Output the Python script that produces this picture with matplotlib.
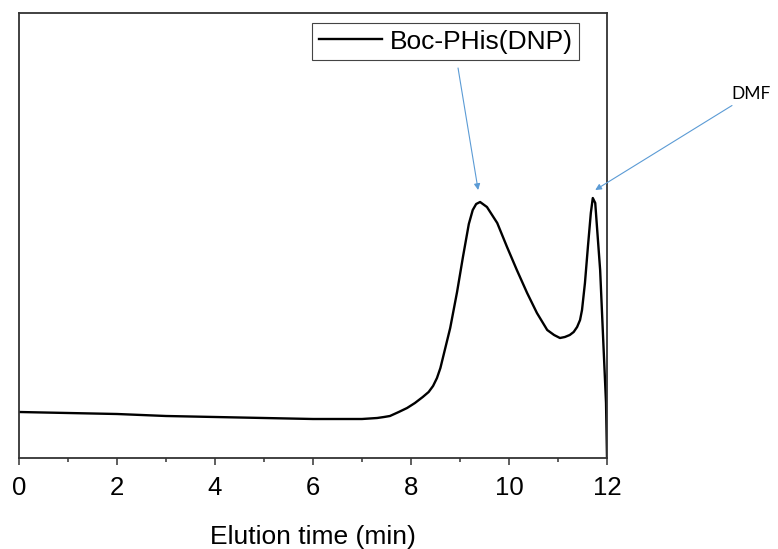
import numpy as np
import matplotlib
matplotlib.use("Agg")
import matplotlib.pyplot as plt
from matplotlib.ticker import MultipleLocator

time_min = [0, 1, 2, 3, 4, 5, 6, 6.55, 7.0, 7.31, 7.45, 7.57, 7.75, 7.92,
            8.08, 8.24, 8.36, 8.45, 8.53, 8.6, 8.69, 8.8, 8.94, 9.06, 9.18,
            9.26, 9.33, 9.41, 9.55, 9.76, 9.96, 10.16, 10.37, 10.57, 10.78,
            10.92, 11.04, 11.14, 11.24, 11.32, 11.39, 11.45, 11.49, 11.55,
            11.61, 11.67, 11.71, 11.76, 11.8, 11.86, 11.92, 11.98, 12.0]
signal = [46, 45, 44, 42, 41, 40, 39, 39, 39, 40, 41, 42, 46, 50,
          55, 61, 66, 72, 80, 90, 108, 130, 166, 201, 234,
          248, 254, 256, 251, 235, 211, 188, 165, 145, 128,
          123, 120, 121, 123, 126, 131, 138, 148, 175,
          211, 245, 260, 255, 228, 188, 121, 55, 0]
series_label = "Boc-PHis(DNP)"
xticks = [0, 2, 4, 6, 8, 10, 12]

plt.rcParams['font.family'] = ['Liberation Sans', 'DejaVu Sans']

fig = plt.figure(figsize=(7.78, 5.49), dpi=100)
ax = fig.add_axes([19 / 778, 91 / 549, 588 / 778, 445 / 549])

ax.plot(time_min, signal, color='black', linewidth=1.7, label=series_label,
        solid_joinstyle='round')

ax.set_xlim(0, 12)
ax.set_ylim(0, 445)
ax.set_xticks(xticks)
ax.xaxis.set_minor_locator(MultipleLocator(1))
ax.set_yticks([])
ax.tick_params(axis='x', which='major', direction='out', length=5, width=1.1,
               labelsize=18.5, pad=8, color='#333333')
ax.tick_params(axis='x', which='minor', direction='out', length=3, width=1.1,
               color='#333333')
for sp_ in ax.spines.values():
    sp_.set_color('#333333')
    sp_.set_linewidth(1.3)

ax.set_xlabel("Elution time (min)", fontsize=19, labelpad=18)

leg = ax.legend(loc='upper left', bbox_to_anchor=(312 / 778, 526 / 549),
                bbox_transform=fig.transFigure, borderaxespad=0, fontsize=19,
                frameon=True, fancybox=False, framealpha=1, borderpad=0.25,
                handlelength=2.4, handletextpad=0.3)
leg.get_frame().set_edgecolor('#444444')
leg.get_frame().set_linewidth(0.8)

# === Flechas azules ===
arrow_color = '#5B9BD5'
ax.annotate('', xy=(9.37, 268), xytext=(8.96, 390),
            arrowprops=dict(arrowstyle='-|>', color=arrow_color, lw=0.8,
                            mutation_scale=9, shrinkA=0, shrinkB=0))
ax.annotate('DMF', xy=(11.76, 268), xytext=(731, 549 - 94),
            textcoords='figure pixels', ha='left', va='center',
            fontsize=12.5, family=['Lato', 'DejaVu Sans'],
            annotation_clip=False,
            arrowprops=dict(arrowstyle='-|>', color=arrow_color, lw=0.8,
                            mutation_scale=9, shrinkA=1, shrinkB=0))

fig.savefig("out.png", dpi=100)
